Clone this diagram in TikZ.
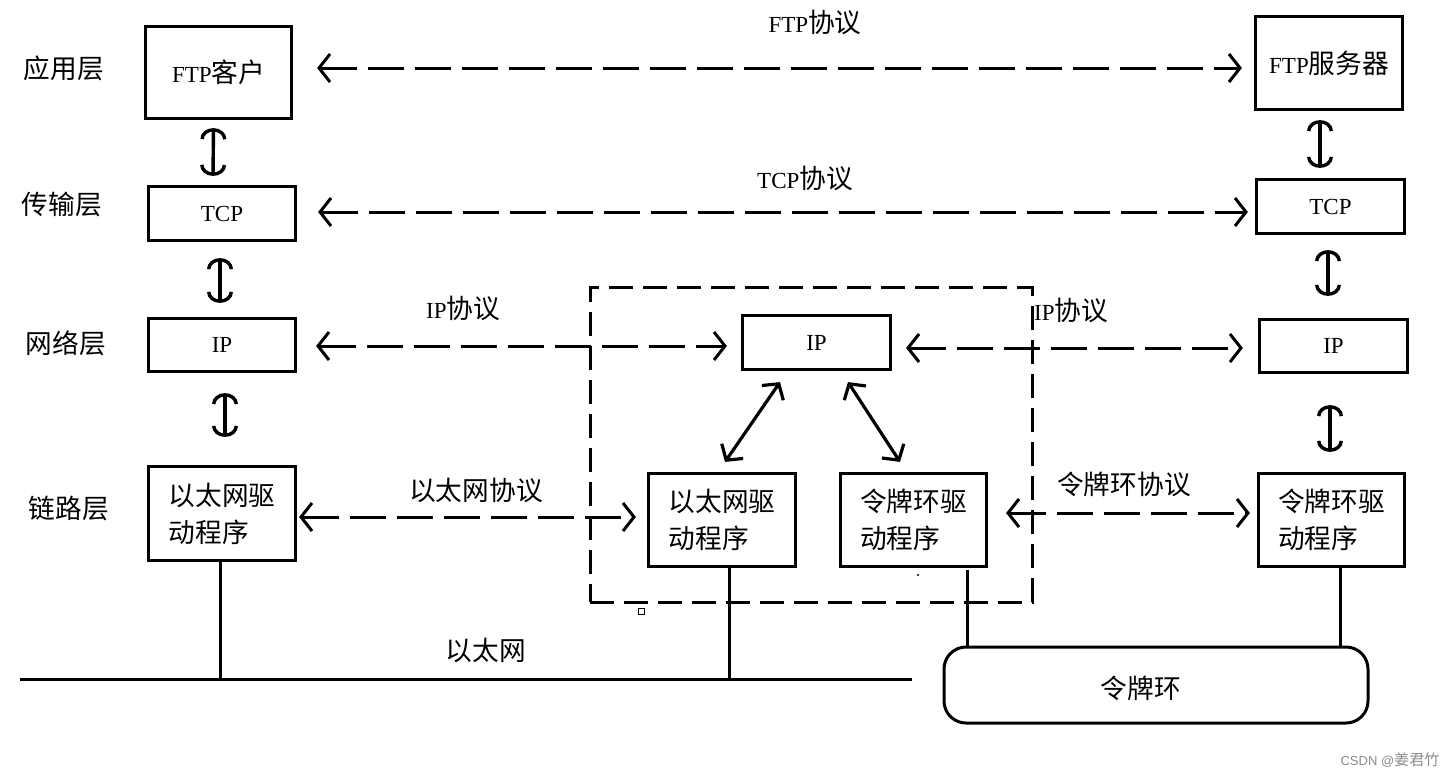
\documentclass[tikz,border=0pt]{standalone}
\usepackage{fontspec}
\setmainfont{Liberation Serif}
\newfontfamily\cjk{Noto Sans CJK SC}[Scale=1.16]
\newfontfamily\wmfont{Liberation Sans}
\usetikzlibrary{arrows.meta,calc}
\newcommand\zh[1]{{\cjk #1}}
\begin{document}
\begin{tikzpicture}[x=1pt,y=-1pt,
  every node/.style={font=\fontsize{23}{30}\selectfont},
  box/.style={draw,line width=3.2pt,inner sep=0pt,align=left,font=\fontsize{23}{37}\selectfont},
  lbl/.style={inner sep=0pt},
  proto/.style={line width=3pt,dash pattern=on 36pt off 11pt,{Straight Barb[length=11pt,width=28pt]}-{Straight Barb[length=11pt,width=28pt]}},
  diag/.style={line width=3.2pt,{Straight Barb[length=11pt,width=26pt]}-{Straight Barb[length=11pt,width=26pt]}},
  updown/.style={line width=3.4pt,{Arc Barb[length=11pt,width=26pt]}-{Arc Barb[length=11pt,width=26pt]}},
  wire/.style={line width=3pt}]
\useasboundingbox[fill=white] (0,0) rectangle (1448,777);

% layer labels
\node[lbl] (lapp) at (64,68) {\zh{应用层}};
\node[lbl] (ltrans) at (62,204) {\zh{传输层}};
\node[lbl] (lnet) at (66,343) {\zh{网络层}};
\node[lbl] (llink) at (69,508) {\zh{链路层}};

% left host
\node[box,minimum width=146pt,minimum height=92pt] (ftpc) at (218.5,72.5) {FTP\zh{客户}};
\node[box,minimum width=147pt,minimum height=54pt] (tcpl) at (222,213.5) {TCP};
\node[box,minimum width=147pt,minimum height=53pt] (ipl) at (222,345) {IP};
\node[box,minimum width=147pt,minimum height=94pt] (ethl) at (222,513.5) {\zh{以太网驱}\\\zh{动程序}};

% right host
\node[box,minimum width=147pt,minimum height=93pt] (ftps) at (1329,63) {FTP\zh{服务器}};
\node[box,minimum width=148pt,minimum height=54pt] (tcpr) at (1330.5,206.5) {TCP};
\node[box,minimum width=148pt,minimum height=53pt] (ipr) at (1333.5,346) {IP};
\node[box,minimum width=146pt,minimum height=93pt] (tokr) at (1331.5,520) {\zh{令牌环驱}\\\zh{动程序}};

% router
\node[draw,line width=3pt,dash pattern=on 24pt off 10pt,minimum width=442pt,minimum height=315pt,inner sep=0pt] (router) at (811,444.5) {};
\node[box,minimum width=148pt,minimum height=54pt] (ipm) at (816.5,342.5) {IP};
\node[box,minimum width=147pt,minimum height=93pt] (ethm) at (722,520) {\zh{以太网驱}\\\zh{动程序}};
\node[box,minimum width=146pt,minimum height=93pt] (tokm) at (913.5,520) {\zh{令牌环驱}\\\zh{动程序}};

% token ring
\node[draw,line width=3pt,rounded corners=22pt,minimum width=424pt,minimum height=76pt,inner sep=0pt] (ring) at (1156,685) {};
\node[lbl] (ringtxt) at (1141,688) {\zh{令牌环}};

% ethernet bus
\coordinate (busL) at (20,679);
\coordinate (busR) at (912,679);
\draw[wire] (busL) -- (busR);
\node[lbl] (ethtxt) at (486,650) {\zh{以太网}};

% protocol labels
\node[lbl] (pftp) at (815,22) {FTP\zh{协议}};
\node[lbl] (ptcp) at (805,178) {TCP\zh{协议}};
\node[lbl] (pip1) at (463,308) {IP\zh{协议}};
\node[lbl] (pip2) at (1071,310) {IP\zh{协议}};
\node[lbl] (peth) at (476,490) {\zh{以太网协议}};
\node[lbl] (ptok) at (1124,484) {\zh{令牌环协议}};

% peer protocol arrows
\draw[proto] ($(ftpc.east)+(24,-4.5)$) -- ($(ftps.west)+(-12,5)$);
\draw[proto] ($(tcpl.east)+(21,-1.5)$) -- ($(tcpr.west)+(-7,5.5)$);
\draw[proto] ($(ipl.east)+(19,1)$) -- ($(ipm.west)+(-14,3.5)$);
\draw[proto] ($(ipm.east)+(14,5.5)$) -- ($(ipr.west)+(-15,2)$);
\draw[proto] ($(ethl.east)+(2,3.5)$) -- ($(ethm.west)+(-11,-3)$);
\draw[proto] ($(tokm.east)+(18,-7)$) -- ($(tokr.west)+(-7,-7)$);

% layer-to-layer arrows
\draw[updown] ($(ftpc.south)+(-5,8)$) -- ($(tcpl.north)+(-9,-9)$);
\draw[updown] ($(tcpl.south)+(-2,16)$) -- ($(ipl.north)+(-2,-14)$);
\draw[updown] ($(ipl.south)+(3,20)$) -- ($(ethl.north)+(3,-28)$);
\draw[updown] ($(ftps.south)+(-9,9)$) -- ($(tcpr.north)+(-10.5,-10)$);
\draw[updown] ($(tcpr.south)+(-2.5,15)$) -- ($(ipr.north)+(-5.5,-22)$);
\draw[updown] ($(ipr.south)+(-3.5,31)$) -- ($(tokr.north)+(-1.5,-20)$);
\draw[diag] ($(ipm.south)+(-36.5,11)$) -- ($(ethm.north)+(3,-10)$);
\draw[diag] ($(ipm.south)+(31.5,11)$) -- ($(tokm.north)+(-13.5,-10)$);

% physical attachments
\coordinate (a1) at ($(ethl.south)+(-2,0)$);
\coordinate (a2) at ($(ethm.south)+(7,0)$);
\coordinate (a3) at ($(tokm.south)+(53.5,2)$);
\coordinate (a4) at ($(tokr.south)+(8.5,0)$);
\draw[wire] (a1) -- (a1 |- busL);
\draw[wire] (a2) -- (a2 |- busL);
\draw[wire] (a3) -- (a3 |- ring.north);
\draw[wire] (a4) -- (a4 |- ring.north);

% small marks
\node[draw,line width=0.8pt,minimum size=6pt,inner sep=0pt] (sq) at (641,611) {};
\fill (918,575) circle (1.2pt);

% watermark
\node[lbl,text=black!45,font=\wmfont\fontsize{13}{15}\selectfont] (wm) at (1390,760) {CSDN @{\cjk\fontsize{13}{15}\selectfont 姜君竹}};
\end{tikzpicture}
\end{document}
